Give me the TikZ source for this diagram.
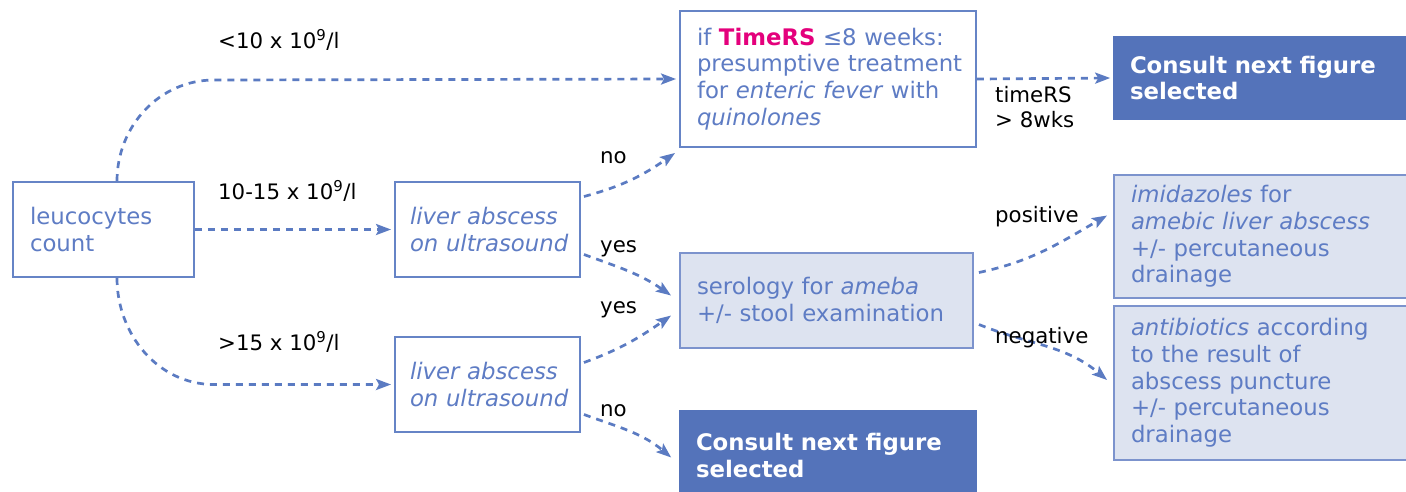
\documentclass[tikz,border=0pt]{standalone}
\usepackage{fontspec}
\setmainfont{DejaVu Sans}
\usetikzlibrary{arrows.meta,calc}
\definecolor{edgec}{HTML}{5B7BC2}
\definecolor{bordc}{HTML}{6684C6}
\definecolor{txtc}{HTML}{5E7CC4}
\definecolor{lightf}{HTML}{DDE3F0}
\definecolor{lightb}{HTML}{7C93CD}
\definecolor{darkf}{HTML}{5473BA}
\definecolor{magc}{HTML}{E4007C}
\newcommand\bl[1]{\mbox{#1}}
\tikzset{
  x=1pt, y=1pt,
  boxfont/.style={font=\fontsize{22.8}{26.7}\selectfont},
  wbox/.style={boxfont, draw=bordc, line width=1.9pt, fill=white, text=txtc, align=left, inner xsep=#1, inner ysep=0pt},
  wbox/.default=17pt,
  lbox/.style={boxfont, draw=lightb, line width=1.9pt, fill=lightf, text=txtc, align=left, inner xsep=17pt, inner ysep=0pt},
  dbox/.style={draw=darkf, line width=1.6pt, fill=darkf, text=white, align=left, inner xsep=16pt, inner ysep=0pt, font=\fontsize{22.8}{26.7}\selectfont\bfseries},
  conn/.style={draw=edgec, line width=2.7pt, dash pattern=on 7pt off 6pt, -{Stealth[length=15pt,width=11pt,inset=3pt]}},
  lbl/.style={font=\fontsize{21.3}{25}\selectfont, text=black, inner sep=0pt, anchor=base west}
}
\begin{document}
\begin{tikzpicture}
\useasboundingbox (0,0) rectangle (1406,-491);
% boxes
\node[wbox, minimum width=181, minimum height=95, text width=147] (leu) at (103.5,-229.5) {\bl{leucocytes}\\\bl{count}};
\node[wbox=15pt, minimum width=185, minimum height=95, text width=155] (liv1) at (487.5,-229.5) {\itshape \bl{liver abscess}\\\bl{on ultrasound}};
\node[wbox=15pt, minimum width=185, minimum height=95, text width=155] (liv2) at (487.5,-384.5) {\itshape \bl{liver abscess}\\\bl{on ultrasound}};
\node[wbox, minimum width=296, minimum height=136, text width=262] (top) at (828,-79) {\bl{if {\color{magc}\bfseries TimeRS} ≤8 weeks:}\\\bl{presumptive treatment}\\\bl{for \textit{enteric fever} with}\\\bl{\textit{quinolones}}};
\node[dbox, minimum width=306, minimum height=82, text width=274] (con1) at (1267,-78) {\bl{Consult next figure}\\\bl{selected}};
\node[lbox, minimum width=293, minimum height=95, text width=259] (ser) at (826.5,-300.5) {\bl{serology for \textit{ameba}}\\\bl{+/- stool examination}};
\node[lbox, minimum width=306, minimum height=123, text width=272] (imi) at (1267,-236.5) {\bl{\textit{imidazoles} for}\\\bl{\textit{amebic liver abscess}}\\\bl{+/- percutaneous}\\\bl{drainage}};
\node[lbox, minimum width=306, minimum height=154, text width=272] (ant) at (1267,-383) {\bl{\textit{antibiotics} according}\\\bl{to the result of}\\\bl{abscess puncture}\\\bl{+/- percutaneous}\\\bl{drainage}};
\node[dbox, minimum width=296, minimum height=89, text width=264] (con2) at (828,-455.5) {\bl{Consult next figure}\\\bl{selected}};
% helper coordinates
\coordinate (c1) at (214,-80);
\coordinate (c3) at (214,-384.5);
% connectors
\draw[conn] ([xshift=13.5]leu.north) to[out=90,in=180] (c1) -- ([xshift=-3]top.west);
\draw[conn] (leu.east) -- ([xshift=-3]liv1.west);
\draw[conn] ([xshift=13.5]leu.south) to[out=-90,in=180] (c3) -- ([xshift=-3]liv2.west);
\draw[conn] ([shift={(3,33)}]liv1.east) to[out=15,in=215] ([shift={(-4,-5)}]top.south west);
\draw[conn] ([shift={(3,-25)}]liv1.east) to[out=-20,in=145] ([shift={(-8,5)}]ser.west);
\draw[conn] ([shift={(3,22)}]liv2.east) to[out=20,in=215] ([shift={(-8,-15)}]ser.west);
\draw[conn] ([shift={(3,-30)}]liv2.east) to[out=-20,in=140] ([shift={(-8,-2)}]con2.west);
\draw[conn] (top.east) -- ([xshift=-3]con1.west);
\draw[conn] ([shift={(5,28)}]ser.east) to[out=12,in=210] ([shift={(-6,21)}]imi.west);
\draw[conn] ([shift={(5,-24)}]ser.east) to[out=-22,in=140] ([shift={(-6,3)}]ant.west);
% labels
\node[lbl] (l1) at (218,-48) {<10 x 10\textsuperscript{9}/l};
\node[lbl] (l2) at (218,-199) {10-15 x 10\textsuperscript{9}/l};
\node[lbl] (l3) at (218,-350) {>15 x 10\textsuperscript{9}/l};
\node[lbl] (l4) at (600,-163) {no};
\node[lbl] (l5) at (600,-252) {yes};
\node[lbl] (l6) at (600,-313) {yes};
\node[lbl] (l7) at (600,-416) {no};
\node[lbl] (l8) at (995,-102) {timeRS};
\node[lbl] (l9) at (995,-127) {> 8wks};
\node[lbl] (l10) at (995,-222) {positive};
\node[lbl] (l11) at (995,-343) {negative};
\end{tikzpicture}
\end{document}
